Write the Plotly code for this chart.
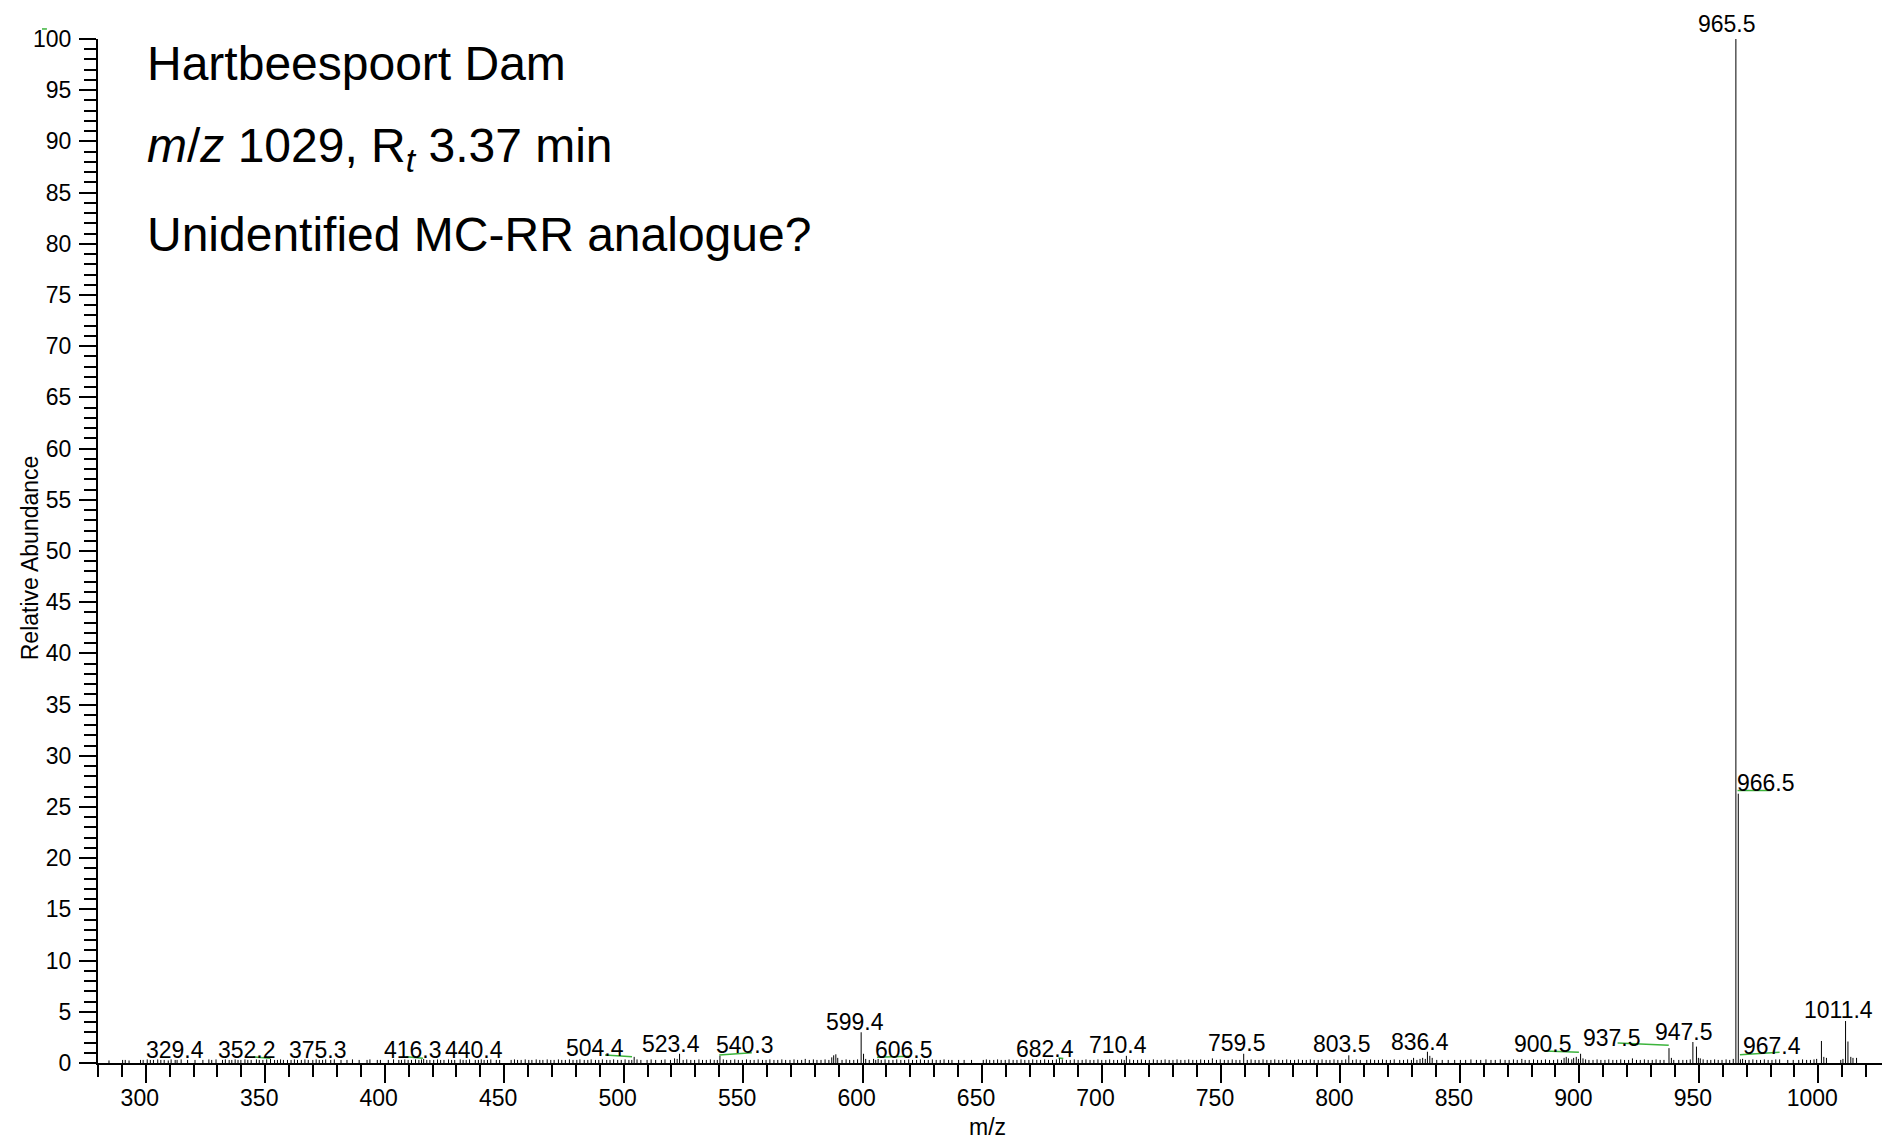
import plotly.graph_objects as go

# ---------------- data ----------------
# labelled peaks (m/z, relative abundance)
peak_mz = [329.4, 352.2, 375.3, 416.3, 440.4, 504.4, 523.4, 540.3, 599.4, 606.5,
           682.4, 710.4, 759.5, 803.5, 836.4, 900.5, 937.5, 947.5, 965.5, 966.5,
           967.4, 1011.4]
peak_int = [0.35, 0.4, 0.35, 0.4, 0.35, 0.6, 0.9, 0.7, 3.0, 0.4,
            0.45, 0.7, 0.9, 0.75, 1.1, 0.9, 1.45, 2.05, 100.0, 26.3,
            0.35, 4.1]
peak_label = ["329.4", "352.2", "375.3", "416.3", "440.4", "504.4", "523.4", "540.3",
              "599.4", "606.5", "682.4", "710.4", "759.5", "803.5", "836.4", "900.5",
              "937.5", "947.5", "965.5", "966.5", "967.4", "1011.4"]

# other visible (unlabelled) ions
minor_mz = [1001.3, 1012.4]
minor_int = [2.15, 2.1]

# baseline ions (m/z, abundance)
baseline = [
    (284.6, .25), (290.3, .3), (291.4, .3), (293.0, .25), (297.8, .3), (298.9, .3), (300.6, .35),
    (301.9, .3), (303.2, .3), (305.0, .35), (306.3, .3), (307.7, .3), (309.4, .25), (310.6, .35),
    (312.3, .3), (313.1, .3), (314.8, .35), (317.5, .3), (320.6, .3), (323.9, .3), (326.4, .35),
    (327.6, .3), (332.1, .3), (333.3, .35), (334.9, .3), (336.0, .3), (337.4, .35), (338.6, .3),
    (339.8, .3), (341.5, .35), (342.7, .3), (344.1, .3), (346.3, .35), (347.5, .3), (349.0, .3),
    (350.6, .35), (353.9, .3), (355.1, .3), (356.4, .35), (357.6, .3), (359.3, .3), (360.8, .3),
    (362.2, .35), (363.5, .3), (365.1, .3), (366.6, .35), (368.0, .3), (369.9, .3), (371.3, .35),
    (372.6, .3), (374.0, .3), (377.4, .3), (378.9, .35), (381.7, .3), (384.2, .3), (386.5, .35),
    (389.3, .3), (392.6, .3), (393.8, .35), (396.9, .3), (398.2, .3), (401.5, .3), (403.7, .35),
    (405.9, .3), (407.0, .3), (408.4, .35), (409.8, .3), (411.2, .3), (412.9, .35), (414.3, .3),
    (415.4, .35), (417.6, .3), (418.9, .3), (420.5, .3), (422.1, .35), (423.4, .3), (424.8, .3),
    (426.7, .35), (428.0, .3), (429.3, .3), (431.6, .35), (432.8, .3), (434.1, .3), (435.5, .35),
    (437.9, .3), (439.2, .3), (441.6, .3), (443.0, .3), (444.4, .35), (446.7, .3), (448.1, .3),
    (452.9, .3), (454.3, .35), (455.6, .3), (457.1, .3), (458.8, .35), (460.3, .3), (461.6, .3),
    (463.4, .35), (464.9, .3), (466.2, .3), (468.0, .35), (469.5, .3), (470.9, .3), (472.7, .35),
    (474.1, .3), (475.6, .3), (477.3, .35), (478.8, .3), (480.4, .3), (481.7, .35), (483.5, .3),
    (485.0, .3), (486.4, .35), (488.2, .3), (489.6, .3), (491.1, .35), (492.9, .3), (494.3, .3),
    (495.8, .35), (497.5, .3), (499.0, .3), (500.6, .35), (502.2, .3), (503.4, .3), (505.6, .35),
    (507.2, .3), (509.8, .3), (511.5, .35), (513.4, .3), (515.8, .3), (517.3, .35), (519.6, .3),
    (521.3, .45), (522.4, .4), (524.9, .3), (526.4, .35), (528.1, .3), (529.7, .3), (531.5, .35),
    (533.0, .3), (534.6, .3), (536.3, .35), (537.9, .3), (539.2, .3), (541.7, .35), (543.1, .3),
    (544.8, .3), (546.5, .35), (548.0, .3), (549.7, .3), (551.4, .35), (553.0, .3), (554.6, .3),
    (556.3, .35), (558.1, .3), (559.6, .3), (561.2, .35), (562.9, .3), (564.5, .3), (566.2, .35),
    (567.8, .3), (569.6, .3), (571.3, .35), (572.8, .3), (574.5, .3), (576.0, .4), (577.7, .3),
    (579.4, .35), (580.9, .3), (582.6, .3), (584.3, .35), (585.9, .3), (587.1, .55), (587.9, .75),
    (588.8, .85), (589.6, .5), (591.4, .3), (593.1, .35), (594.6, .3), (596.3, .3), (597.9, .35),
    (600.4, .9), (601.3, .4), (602.8, .3), (604.6, .4), (605.5, .3), (607.8, .3), (609.4, .35),
    (611.0, .3), (612.7, .3), (614.3, .35), (616.0, .3), (617.6, .3), (619.3, .35), (620.9, .3),
    (622.6, .3), (624.2, .35), (625.9, .3), (627.5, .3), (629.2, .35), (630.8, .3), (632.5, .3),
    (634.1, .35), (636.0, .3), (637.4, .3), (640.2, .3), (642.5, .3), (645.6, .3), (650.5, .3),
    (651.8, .35), (653.2, .3), (654.9, .3), (656.5, .35), (658.0, .3), (659.7, .3), (661.3, .35),
    (663.0, .3), (664.6, .3), (666.3, .35), (667.9, .3), (669.6, .3), (671.2, .35), (672.9, .3),
    (674.5, .3), (676.2, .35), (677.8, .3), (679.5, .3), (681.1, .35), (683.6, .35), (685.3, .3),
    (686.9, .3), (688.6, .35), (690.2, .3), (691.9, .3), (693.5, .35), (695.2, .3), (696.8, .3),
    (698.5, .35), (700.1, .3), (701.8, .3), (703.4, .35), (705.1, .3), (706.7, .3), (708.4, .35),
    (709.5, .3), (711.8, .35), (713.4, .3), (715.1, .3), (716.7, .35), (718.4, .3), (720.0, .3),
    (721.7, .35), (723.3, .3), (725.0, .3), (726.6, .35), (728.3, .3), (729.9, .3), (731.6, .35),
    (733.2, .3), (734.9, .3), (736.5, .35), (738.2, .3), (739.8, .3), (741.5, .35), (743.1, .3),
    (744.8, .3), (746.4, .45), (748.1, .3), (749.7, .35), (751.4, .3), (753.0, .3), (754.7, .35),
    (756.3, .3), (757.9, .3), (761.0, .3), (762.6, .35), (764.3, .3), (765.9, .3), (767.6, .35),
    (769.2, .3), (770.9, .3), (772.5, .35), (774.2, .3), (775.8, .3), (777.5, .35), (779.1, .3),
    (780.8, .3), (782.4, .35), (784.1, .3), (785.7, .3), (787.4, .35), (789.0, .3), (790.7, .3),
    (792.3, .35), (794.0, .3), (795.6, .3), (797.3, .35), (798.9, .3), (800.6, .3), (802.2, .35),
    (805.1, .3), (806.6, .35), (808.3, .3), (811.0, .3), (812.6, .35), (814.3, .3), (815.9, .3),
    (817.6, .35), (819.2, .3), (820.9, .3), (822.5, .35), (824.8, .3), (826.4, .3), (828.1, .35),
    (829.7, .3), (830.6, .5), (832.0, .3), (833.3, .4), (834.4, .5), (835.5, .4), (837.4, .7),
    (838.4, .5), (840.3, .3), (842.6, .3), (845.1, .3), (847.8, .3), (850.2, .3), (852.4, .3),
    (854.6, .35), (856.9, .3), (858.7, .3), (860.9, .35), (863.0, .3), (864.8, .3), (866.9, .35),
    (868.9, .3), (870.6, .3), (872.4, .35), (874.0, .3), (875.9, .4), (877.3, .3), (879.0, .3),
    (880.8, .35), (882.5, .3), (884.1, .3), (885.8, .35), (887.5, .3), (889.2, .3), (890.9, .35),
    (892.5, .3), (893.6, .5), (894.5, .6), (895.4, .45), (896.8, .35), (897.6, .5), (898.7, .6),
    (899.6, .4), (901.5, .45), (902.6, .35), (904.0, .3), (905.7, .3), (907.4, .35), (909.0, .3),
    (910.7, .3), (912.3, .35), (914.0, .3), (915.6, .3), (917.3, .35), (918.9, .3), (920.6, .3),
    (922.2, .45), (923.9, .3), (925.5, .3), (927.2, .35), (928.8, .3), (930.5, .3), (932.1, .35),
    (933.8, .3), (935.4, .3), (938.5, .5), (939.5, .3), (941.6, .3), (943.3, .3), (944.9, .3),
    (946.4, .35), (949.0, 1.6), (949.8, .5), (950.6, .45), (951.8, .35), (953.5, .3), (955.0, .3),
    (956.6, .35), (958.1, .3), (959.7, .3), (961.4, .35), (962.9, .3), (964.4, .4), (968.3, .4),
    (969.5, .3), (971.0, .3), (972.6, .35), (974.2, .3), (975.8, .3), (977.4, .35), (979.0, .3),
    (980.6, .3), (982.2, .35), (983.8, .35), (987.2, .3), (989.5, .3), (991.8, .3), (993.4, .35),
    (995.1, .3), (996.7, .3), (998.2, .35), (999.3, .4), (1002.3, .6), (1003.4, .5), (1009.4, .3),
    (1010.3, .4), (1013.6, .6), (1014.5, .5), (1016.0, .5), (1028.7, .3),
]
baseline_mz = [b[0] for b in baseline]
baseline_int = [b[1] for b in baseline]

# label placement (label centre in data units; software-shifted labels)
label_x = [312.1, 342.4, 372.2, 412.0, 437.3, 488.2, 520.0, 550.8, 596.7, 617.4,
           676.4, 706.7, 756.6, 800.5, 833.4, 884.8, 913.6, 943.9, 961.6, 978.2,
           980.7, 1008.4]
label_y = [1.28, 1.28, 1.28, 1.28, 1.28, 1.51, 1.87, 1.75, 3.98, 1.28,
           1.40, 1.75, 1.98, 1.87, 2.10, 1.87, 2.46, 3.05, 100.0, 27.3,
           1.63, 5.17]
label_dy = [0] * 18 + [15, 0, 0, 0]   # pixel lift for the label above the base peak

# green leader lines (x0, y0, x1, y1)
leaders = [
    (345.0, 0.60, 352.2, 0.46), (409.0, 0.62, 416.0, 0.46), (492.2, 0.78, 503.5, 0.62),
    (540.0, 0.78, 553.6, 1.00), (606.0, 0.55, 620.0, 0.65), (682.0, 0.50, 684.0, 0.45),
    (885.3, 1.17, 899.8, 1.04), (916.0, 1.95, 937.4, 1.73), (967.2, 0.81, 983.8, 1.04),
    (966.2, 26.6, 980.0, 26.6),
]

FONT = "Liberation Sans, Arial, Helvetica, sans-serif"

# ---------------- sticks ----------------
all_mz = peak_mz + minor_mz + baseline_mz
all_int = peak_int + minor_int + baseline_int
sx, sy = [], []
for m, v in zip(all_mz, all_int):
    sx += [m, m, None]
    sy += [0, v, None]

gx, gy = [], []
for x0, y0, x1, y1 in leaders:
    gx += [x0, x1, None]
    gy += [y0, y1, None]

fig = go.Figure()
fig.add_trace(go.Scatter(x=gx, y=gy, mode="lines", line=dict(color="#3cb43c", width=1.5),
                         hoverinfo="skip", showlegend=False, cliponaxis=False))
fig.add_trace(go.Scatter(x=sx, y=sy, mode="lines", line=dict(color="black", width=1),
                         hoverinfo="skip", showlegend=False, cliponaxis=False))

ann = []
for t, lx, ly, dy in zip(peak_label, label_x, label_y, label_dy):
    ann.append(dict(x=lx, y=ly, xref="x", yref="y", yshift=dy, text=t, showarrow=False,
                    xanchor="center", yanchor="middle",
                    font=dict(family=FONT, size=23, color="black")))

title_lines = ["Hartbeespoort Dam",
               "<i>m</i>/<i>z</i> 1029, R<sub><i>t</i></sub> 3.37 min",
               "Unidentified MC-RR analogue?"]
title_y = [0.9756, 0.8926, 0.8086]
for t, yy in zip(title_lines, title_y):
    ann.append(dict(x=0.0262, y=yy, xref="paper", yref="paper", text=t, showarrow=False,
                    xanchor="left", yanchor="middle",
                    font=dict(family=FONT, size=48, color="black")))

ann.append(dict(x=0.4966, y=-0.0625, xref="paper", yref="paper", text="m/z", showarrow=False,
                xanchor="center", yanchor="middle", font=dict(family=FONT, size=23, color="black")))
ann.append(dict(x=-0.0379, y=0.493, xref="paper", yref="paper", text="Relative Abundance",
                showarrow=False, textangle=-90, xanchor="center", yanchor="middle",
                font=dict(family=FONT, size=23, color="black")))

# the page body has an 8 px margin, so the figure is 8 px smaller and margins shifted
fig.update_layout(
    template="none",
    width=1882, height=1132, autosize=False,
    margin=dict(l=90, r=0, t=31, b=77, pad=0),
    paper_bgcolor="white", plot_bgcolor="white",
    annotations=ann,
    shapes=[dict(type="line", xref="paper", yref="paper", x0=-0.03125, x1=-0.0285,
                 y0=1.0098, y1=1.0098, line=dict(color="#3cb43c", width=1.5))],
    xaxis=dict(range=[280, 1030], showgrid=False, zeroline=False, automargin=False,
               showline=True, linecolor="black", linewidth=2,
               ticks="outside", ticklen=18, tickwidth=1.5, tickcolor="black",
               tick0=0, dtick=50, ticklabelstandoff=-5, ticklabelshift=-6,
               tickfont=dict(family=FONT, size=23, color="black"),
               minor=dict(ticks="outside", ticklen=12, tickwidth=1.5, tickcolor="black",
                          dtick=10, tick0=0, showgrid=False)),
    yaxis=dict(range=[0, 100], showgrid=False, zeroline=False, automargin=False,
               showline=True, linecolor="black", linewidth=2,
               ticks="outside", ticklen=17, tickwidth=1.5, tickcolor="black",
               tick0=0, dtick=5, ticklabelstandoff=3,
               tickfont=dict(family=FONT, size=23, color="black"),
               minor=dict(ticks="outside", ticklen=12, tickwidth=1.5, tickcolor="black",
                          dtick=1, tick0=0, showgrid=False)),
)

fig.write_html("out.html", config={"displayModeBar": False})
